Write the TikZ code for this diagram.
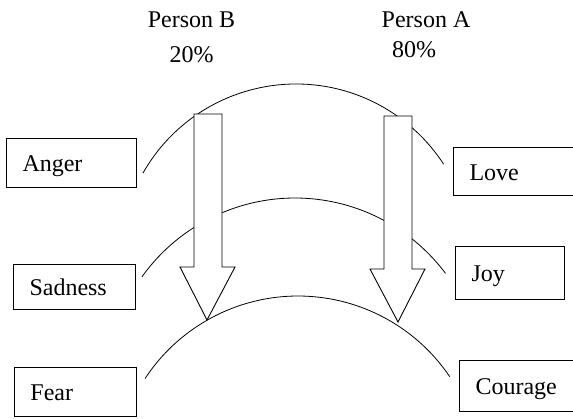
\documentclass[tikz,border=0pt]{standalone}
\usepackage{fontspec}
\setmainfont{Liberation Serif}
\begin{document}
\begin{tikzpicture}[x=1pt,y=-1pt,
  every node/.style={font=\fontsize{24}{28}\selectfont, inner sep=0pt},
  emobox/.style={draw, line width=1pt, anchor=north west, align=left,
    inner xsep=16pt, inner ysep=0pt, text height=17pt, text depth=0pt},
  title/.style={anchor=base},
  arcline/.style={line width=0.8pt},
  blockarrow/.style={draw, fill=white, line width=0.9pt, line join=miter}]
\useasboundingbox (0,0) rectangle (573,418);
\clip (0,0) rectangle (573,418);

% headings
\node[title] (pb)  at (191.5,27) {Person B};
\node[title] (pbp) at (191.5,62) {20\%};
\node[title] (pa)  at (426,27)   {Person A};
\node[title] (pap) at (414,57)   {80\%};

% three arcs, one per pair of emotions
\draw[arcline] (296,260) ++(-150.4:176) arc[start angle=-150.4, end angle=-33.0, radius=176];
\draw[arcline] (295,386) ++(-144.5:188) arc[start angle=-144.5, end angle=-36.8, radius=188];
\draw[arcline] (298,479) ++(-146.7:183) arc[start angle=-146.7, end angle=-34.0, radius=183];

% emotion boxes
\node[emobox, minimum width=130pt, minimum height=49pt, text width=98pt] (anger)   at (6,138)   {Anger};
\node[emobox, minimum width=130pt, minimum height=48pt, text width=98pt] (love)    at (453,147) {Love};
\node[emobox, minimum width=122pt, minimum height=45pt, text width=90pt] (sadness) at (13,264)  {Sadness};
\node[emobox, minimum width=109pt, minimum height=53pt, text width=77pt] (joy)     at (455,246) {Joy};
\node[emobox, minimum width=122pt, minimum height=49pt, text width=90pt] (fear)    at (14,367)  {Fear};
\node[emobox, minimum width=125pt, minimum height=51pt, text width=93pt] (courage) at (459,360) {Courage};

% block arrows
\draw[blockarrow] (194,114) -- (222,114) -- (222,267) -- (235,267) -- (207,320)
  -- (180,267) -- (194,267) -- cycle;
\draw[blockarrow] (384,116) -- (412,116) -- (412,269) -- (425,269) -- (398,322)
  -- (370,269) -- (384,269) -- cycle;
\end{tikzpicture}
\end{document}
